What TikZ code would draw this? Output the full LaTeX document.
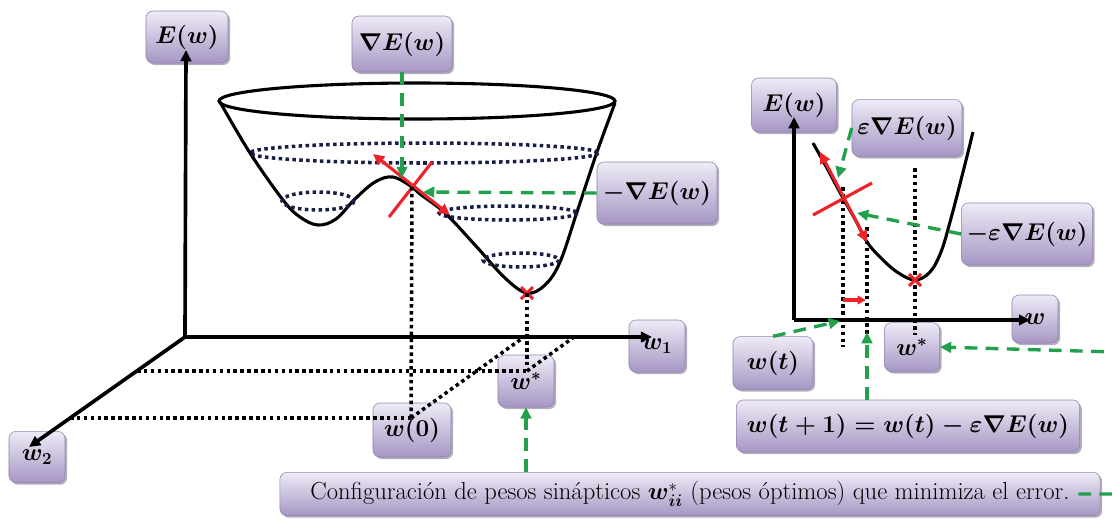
\documentclass[tikz,border=0pt]{standalone}
\usepackage{amsmath}
\usepackage{amssymb}
\usepackage{xcolor}
\usepackage{tikz}
\usetikzlibrary{arrows.meta, positioning, calc, shadows}
\definecolor{boxtop}{RGB}{238,235,246}
\definecolor{boxbot}{RGB}{166,150,196}
\definecolor{boxedge}{RGB}{146,130,176}
\definecolor{gline}{RGB}{34,160,75}
\definecolor{rline}{RGB}{234,36,40}
\definecolor{navy}{RGB}{25,30,70}

\begin{document}
\begin{tikzpicture}[x=0.025cm, y=-0.025cm,
  >={Stealth[inset=0pt, length=8pt, width=7.5pt]},
  bx/.style={rounded corners=5pt, top color=boxtop, bottom color=boxbot,
    draw=boxedge, drop shadow={fill=boxedge!70!black, opacity=0.5,
    shadow xshift=1.5pt, shadow yshift=-1.5pt}, inner sep=2pt,
    font=\fontsize{17.5}{20}\selectfont\boldmath},
  ax/.style={line width=2.6pt},
  grn/.style={draw=gline, line width=2.4pt, dash pattern=on 9pt off 6pt},
  rd/.style={draw=rline, line width=2.2pt},
  dots/.style={line width=2.5pt, dash pattern=on 2.5pt off 2.4pt}]
  \useasboundingbox (0,0) rectangle (1112,522);

  % labels, left panel
  \node[bx, minimum width=2.05cm, minimum height=1.3cm] (Ew1) at (187,37) {$E(w)$};
  \node[bx, minimum width=2.5cm, minimum height=1.4cm] (gradE) at (402,44) {$\nabla E(w)$};
  \node[bx, minimum width=3cm, minimum height=1.55cm] (mgradE) at (657,193) {$-\nabla E(w)$};
  \node[bx, minimum width=1.4cm, minimum height=1.3cm] (w1) at (657,346) {$w_1$};
  \node[bx, minimum width=1.4cm, minimum height=1.28cm] (w2) at (37,457) {$w_2$};
  \node[bx, minimum width=1.95cm, minimum height=1.35cm] (w0) at (412,430) {$w(0)$};
  \node[bx, minimum width=1.4cm, minimum height=1.3cm] (wstar1) at (526,381) {$w^{*}$};
  \node[bx, minimum width=20.5cm, minimum height=1.08cm,
    font=\fontsize{17.5}{20}\selectfont] (caption) at (690,494)
    {Configuración de pesos sinápticos $\boldsymbol{w}^{*}_{\boldsymbol{ii}}$ (pesos óptimos) que minimiza el error.};

  % labels, right panel
  \node[bx, minimum width=2.12cm, minimum height=1.35cm] (Ew2) at (794,105) {$E(w)$};
  \node[bx, minimum width=2.75cm, minimum height=1.42cm] (egradE) at (907,128) {$\varepsilon\nabla E(w)$};
  \node[bx, minimum width=3.28cm, minimum height=1.55cm] (megradE) at (1027,234) {$-\varepsilon\nabla E(w)$};
  \node[bx, minimum width=1.15cm, minimum height=1.2cm] (wlab) at (1035,319) {$w$};
  \node[bx, minimum width=2cm, minimum height=1.32cm] (wt) at (773,363) {$w(t)$};
  \node[bx, minimum width=1.38cm, minimum height=1.22cm] (wstar2) at (912,347) {$w^{*}$};
  \node[bx, minimum width=8.58cm, minimum height=1.3cm] (update) at (908,426)
    {$w(t+1) = w(t) - \varepsilon\nabla E(w)$};

  % bowl
  \coordinate (p0) at (412,187);
  \coordinate (pmin) at (527,293);
  \draw[line width=2.2pt] (417,101) ellipse [x radius=198, y radius=18];
  \draw[line width=2.2pt] plot[smooth, tension=0.6] coordinates {(220,102) (250,153)
    (283,200) (300,217) (318,225) (336,219) (355,199) (375,182) (393,177) (p0)
    (420,194) (445,213) (475,245) (505,278) (pmin) (545,285) (560,262) (577,212)
    (597,152) (615,103)};
  \draw[dots, navy] (424,153) ellipse [x radius=174, y radius=10];
  \draw[dots, navy] (318,201) ellipse [x radius=36, y radius=9];
  \draw[dots, navy] (508,213) ellipse [x radius=69, y radius=7];
  \draw[dots, navy] (521,260) ellipse [x radius=38, y radius=7];
  \draw[rd, <->] (373,154) -- (450,215);
  \draw[rd] (389,217) -- (432,162);
  \draw[rd] (521,287) -- (533,299); \draw[rd] (521,299) -- (533,287);

  % ground plane
  \coordinate (o1) at (185,337);
  \coordinate (g0) at (411,418);
  \coordinate (gs) at (527,371);
  \draw[dots] (p0) -- (g0);
  \draw[dots] (pmin) -- (gs);
  \draw[dots] (137,371) -- (gs);
  \draw[dots] (70,418) -- (g0);
  \draw[dots] (g0) -- (524,337);
  \draw[dots] (gs) -- (574,337);

  % axes
  \coordinate (e1) at (186,50);
  \coordinate (e2) at (652,337);
  \coordinate (e3) at (29,447);
  \draw[ax, ->] (o1) -- (e1);
  \draw[ax, ->] (o1) -- (e2);
  \draw[ax, ->] (o1) -- (e3);

  % right panel
  \coordinate (o2) at (794,320);
  \coordinate (q0) at (843,198);
  \coordinate (q1) at (867,242);
  \coordinate (qmin) at (915,280);
  \draw[line width=2.2pt] plot[smooth, tension=0.6] coordinates {(813,143) (828,170)
    (q0) (856,221) (q1) (880,257) (897,272) (qmin) (930,272) (941,252) (950,222)
    (961,180) (973,132)};
  \draw[dots] (843,187) -- (843,347);
  \draw[dots] (867,227) -- (867,343);
  \draw[dots] (915,168) -- (915,335);
  \draw[rd, <->] (820,152) -- (q1);
  \draw[rd] (813,215) -- (872,183);
  \draw[rd] (909,274) -- (921,286); \draw[rd] (909,286) -- (921,274);
  \draw[rd, ->, >={Stealth[inset=0pt, length=6pt, width=6pt]}] (843,300) -- (866,300);
  \coordinate (e4) at (794,117);
  \coordinate (e5) at (1030,320);
  \draw[ax, ->] (o2) -- (e4);
  \draw[ax, ->] (o2) -- (e5);

  % green pointers
  \coordinate (t1) at (402,178);
  \coordinate (t2) at (423,192);
  \coordinate (t4) at (838,178);
  \coordinate (t5) at (857,213);
  \coordinate (t6) at (840,321);
  \coordinate (t7) at (867,332);
  \coordinate (rt) at (1115,352);
  \draw[grn, ->] (gradE.south) -- (t1);
  \draw[grn, ->] (mgradE.west) -- (t2);
  \draw[grn, ->] (caption.north -| wstar1.south) -- (wstar1.south);
  \draw[grn, ->] (egradE.west) -- (t4);
  \draw[grn, ->] (megradE.west) -- (t5);
  \draw[grn, ->] (wt.north) -- (t6);
  \draw[grn, ->] (update.north -| t7) -- (t7);
  \draw[grn, ->] ($(caption.east)+(-22,0)$) -| (rt) -- (wstar2.east);
\end{tikzpicture}
\end{document}
